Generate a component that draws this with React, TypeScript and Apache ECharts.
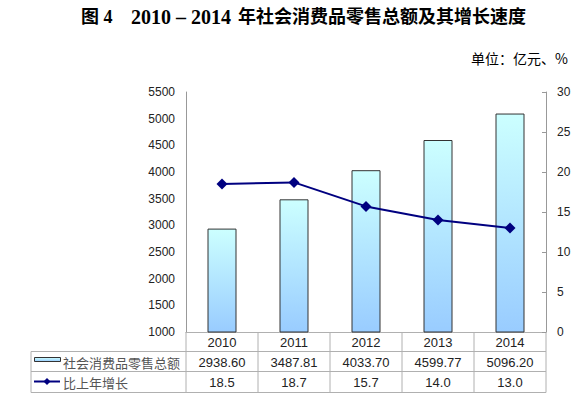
import React, { useEffect, useRef } from "react";
import * as echarts from "echarts";

const categories = ["2010", "2011", "2012", "2013", "2014"];
const salesValues = [2938.6, 3487.81, 4033.7, 4599.77, 5096.2];
const growthValues = [18.5, 18.7, 15.7, 14.0, 13.0];
const salesLabels = ["2938.60", "3487.81", "4033.70", "4599.77", "5096.20"];
const growthLabels = ["18.5", "18.7", "15.7", "14.0", "13.0"];
const seriesNames = ["社会消费品零售总额", "比上年增长"];

const W = 587;
const H = 396;
const GL = 186;
const GR = 546;
const GT = 92;
const GB = 332;
const TL = 31;
const R1 = 351.5;
const R2 = 371.5;
const R3 = 392.5;

const SANS = "Liberation Sans, Arial, sans-serif";

export default function App() {
  const ref = useRef<HTMLDivElement>(null);
  useEffect(() => {
    if (!ref.current) return;
    const chart = echarts.init(ref.current, undefined, { renderer: "svg" });
    const barFill = () =>
      new echarts.graphic.LinearGradient(0, 0, 0, 1, [
        { offset: 0, color: "#ccffff" },
        { offset: 1, color: "#99ccff" },
      ]);
    const colW = (GR - GL) / categories.length;
    const gridStroke = "#b0b0b0";
    const graphics: any[] = [];
    [R1, R2, R3].forEach((y) =>
      graphics.push({
        type: "line",
        shape: { x1: TL, y1: y, x2: GR, y2: y },
        style: { stroke: gridStroke, lineWidth: 1 },
        silent: true,
      })
    );
    graphics.push({
      type: "line",
      shape: { x1: TL, y1: R1, x2: TL, y2: R3 },
      style: { stroke: gridStroke, lineWidth: 1 },
    });
    for (let i = 0; i <= categories.length; i++) {
      const x = GL + i * colW;
      graphics.push({
        type: "line",
        shape: { x1: x, y1: GB, x2: x, y2: R3 },
        style: { stroke: gridStroke, lineWidth: 1 },
      });
    }
    const font13 = "13px Liberation Sans, Arial, sans-serif";
    const rows: [string[], number][] = [
      [categories, (GB + R1) / 2 + 0.5],
      [salesLabels, (R1 + R2) / 2 + 0.5],
      [growthLabels, (R2 + R3) / 2 + 0.5],
    ];
    rows.forEach(([labels, y]) => {
      labels.forEach((t, i) => {
        graphics.push({
          type: "text",
          style: {
            text: t,
            x: GL + (i + 0.5) * colW,
            y,
            align: "center",
            verticalAlign: "middle",
            font: font13,
            fill: "#222",
          },
        });
      });
    });
    graphics.push({
      type: "rect",
      shape: { x: 34.5, y: 357.5, width: 26, height: 4 },
      style: { fill: barFill(), stroke: "#333", lineWidth: 1 },
    });
    graphics.push({
      type: "text",
      style: {
        text: seriesNames[0],
        x: 63,
        y: (R1 + R2) / 2 + 0.5,
        verticalAlign: "middle",
        font: "13px Noto Sans CJK SC, sans-serif",
        fill: "#555",
      },
    });
    graphics.push({
      type: "line",
      shape: { x1: 34, y1: 381.5, x2: 60, y2: 381.5 },
      style: { stroke: "#000080", lineWidth: 2 },
    });
    graphics.push({
      type: "polygon",
      shape: { points: [[47, 378], [50.5, 381.5], [47, 385], [43.5, 381.5]] },
      style: { fill: "#000080" },
    });
    graphics.push({
      type: "text",
      style: {
        text: seriesNames[1],
        x: 63,
        y: (R2 + R3) / 2 + 0.5,
        verticalAlign: "middle",
        font: "13px Noto Sans CJK SC, sans-serif",
        fill: "#555",
      },
    });
    const titleFont = "bold 18px Liberation Serif, Noto Sans CJK SC, serif";
    graphics.push({
      type: "text",
      style: { text: "图 4", x: 81, y: 17, verticalAlign: "middle", font: titleFont, fill: "#000" },
    });
    graphics.push({
      type: "text",
      style: {
        text: "2010 – 2014",
        x: 131,
        y: 17,
        verticalAlign: "middle",
        font: "bold 20px Liberation Serif, serif",
        fill: "#000",
      },
    });
    graphics.push({
      type: "text",
      style: {
        text: "年社会消费品零售总额及其增长速度",
        x: 238,
        y: 17,
        verticalAlign: "middle",
        font: titleFont,
        fill: "#000",
      },
    });
    graphics.push({
      type: "text",
      style: {
        text: "单位：亿元、%",
        x: 568,
        y: 58,
        align: "right",
        verticalAlign: "middle",
        font: "14px Noto Sans CJK SC, sans-serif",
        fill: "#000",
      },
    });

    chart.setOption({
      animation: false,
      backgroundColor: "#fff",
      grid: { left: GL, right: W - GR, top: GT, bottom: H - GB, containLabel: false },
      xAxis: {
        type: "category",
        data: categories,
        axisLine: { show: true, lineStyle: { color: gridStroke } },
        axisTick: { show: false },
        axisLabel: { show: false },
      },
      yAxis: [
        {
          type: "value",
          min: 1000,
          max: 5500,
          interval: 500,
          position: "left",
          axisLine: { show: true, lineStyle: { color: "#999" } },
          axisTick: { show: false },
          splitLine: { show: false },
          axisLabel: {
            margin: 11,
            color: "#222",
            fontSize: 12,
            fontFamily: SANS,
            formatter: (v: number) => String(v),
          },
        },
        {
          type: "value",
          min: 0,
          max: 30,
          interval: 5,
          position: "right",
          axisLine: { show: true, lineStyle: { color: "#999" } },
          axisTick: { show: true, inside: true, length: 4, lineStyle: { color: "#999" } },
          splitLine: { show: false },
          axisLabel: {
            margin: 11,
            color: "#222",
            fontSize: 12,
            fontFamily: SANS,
            formatter: (v: number) => String(v),
          },
        },
      ],
      series: [
        {
          name: seriesNames[0],
          type: "bar",
          data: salesValues,
          barWidth: 29,
          yAxisIndex: 0,
          itemStyle: { color: barFill(), borderColor: "#333", borderWidth: 1 },
        },
        {
          name: seriesNames[1],
          type: "line",
          data: growthValues,
          yAxisIndex: 1,
          symbol: "diamond",
          symbolSize: 11,
          lineStyle: { color: "#000080", width: 2 },
          itemStyle: { color: "#000080" },
        },
      ],
      graphic: graphics,
    });
    return () => chart.dispose();
  }, []);
  return <div ref={ref} style={{ width: W, height: H, position: "absolute", left: 0, top: 0 }} />;
}
